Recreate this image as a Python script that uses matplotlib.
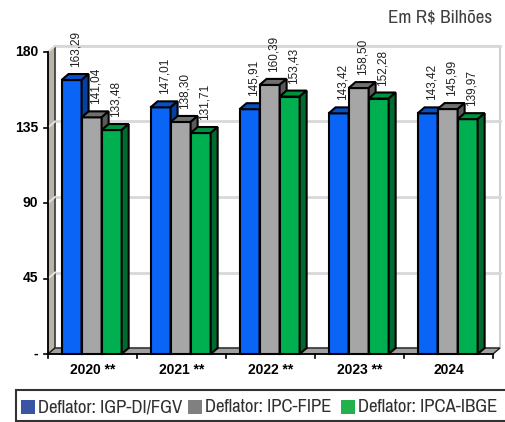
import matplotlib
matplotlib.use("Agg")
import matplotlib.pyplot as plt
from matplotlib.patches import Polygon, Rectangle
from matplotlib.lines import Line2D

# dados
anos = ["2020 **", "2021 **", "2022 **", "2023 **", "2024"]
igp_di = [163.29, 147.01, 145.91, 143.42, 143.42]
ipc_fipe = [141.04, 138.30, 160.39, 158.50, 145.99]
ipca_ibge = [133.48, 131.71, 153.43, 152.28, 139.97]
series_nomes = ["Deflator: IGP-DI/FGV", "Deflator: IPC-FIPE", "Deflator: IPCA-IBGE"]
yticks = [0, 45, 90, 135, 180]
ytick_labels = ["-", "45", "90", "135", "180"]

# cores (frente, topo, lateral, legenda)
cores = [
    ("#0A64F5", "#0850C8", "#0640A0", "#3B55A5"),
    ("#A6A6A6", "#707070", "#5A5A5A", "#808080"),
    ("#00B050", "#00913F", "#006B2F", "#22B14C"),
]

W, H = 506, 422
fig = plt.figure(figsize=(W / 100, H / 100), dpi=100)
L, B, R, T = 48, 354, 493, 52
ax = fig.add_axes([L / W, (H - B) / H, (R - L) / W, (B - T) / H])
YMAX = 180
ax.set_xlim(-0.5, len(anos) - 0.5)
ax.set_ylim(0, YMAX)
ax.axis("off")

# profundidade 3D em unidades de dados
pxx = (R - L) / len(anos)
pxy = (B - T) / YMAX
ddx = 7 / pxx
ddy = 6 / pxy
x0, x1 = -0.5, len(anos) - 0.5

def poly(pts, fc, ec, lw=1.0, z=2):
    ax.add_patch(Polygon(pts, closed=True, facecolor=fc, edgecolor=ec,
                         linewidth=lw, zorder=z, clip_on=False))

# parede do fundo
poly([(x0 + ddx, ddy), (x1 + ddx, ddy), (x1 + ddx, YMAX + ddy), (x0 + ddx, YMAX + ddy)],
     "white", "#D0D0D0", lw=1.5, z=0)
# parede lateral esquerda
poly([(x0, 0), (x0 + ddx, ddy), (x0 + ddx, YMAX + ddy), (x0, YMAX)],
     "#B8B4A8", "#202020", lw=1.0, z=1)
# chão
poly([(x0, 0), (x1, 0), (x1 + ddx, ddy), (x0 + ddx, ddy)],
     "#A0A0A0", "#202020", lw=1.0, z=1)

# grade
for v in yticks[1:]:
    ax.add_line(Line2D([x0 + ddx, x1 + ddx], [v + ddy, v + ddy], color="#D8D8D8",
                       lw=2, zorder=0.5, clip_on=False))
    ax.add_line(Line2D([x0, x0 + ddx], [v, v + ddy], color="#E0E0E0",
                       lw=1.5, zorder=1.5, clip_on=False))

# eixos
ax.add_line(Line2D([x0, x0], [0, YMAX], color="black", lw=1.2, zorder=3, clip_on=False))
ax.add_line(Line2D([x0, x1], [0, 0], color="black", lw=1.2, zorder=3, clip_on=False))
for v, lab in zip(yticks, ytick_labels):
    ax.add_line(Line2D([x0 - 4 / pxx, x0], [v, v], color="black", lw=1.2, clip_on=False))
    ax.text(x0 - 10 / pxx, v, lab, ha="right", va="center", fontsize=10,
            fontweight="bold", family="Liberation Sans")
for i in range(len(anos) + 1):
    xx = x0 + i
    ax.add_line(Line2D([xx, xx], [0, -4 / pxy], color="black", lw=1.2, clip_on=False))
for i, a in enumerate(anos):
    ax.text(i, -16 / pxy, a, ha="center", va="center", fontsize=10,
            fontweight="bold", family="Liberation Sans")

# barras 3D
w = 0.225
dados = [igp_di, ipc_fipe, ipca_ibge]
for i in range(len(anos)):
    for k, serie in enumerate(dados):
        v = serie[i]
        xs = i - 0.01 + (k - 1) * w - w / 2
        fr, tp, sd, _ = cores[k]
        z = 4 + i * 3 + k
        poly([(xs, 0), (xs + w, 0), (xs + w, v), (xs, v)], fr, "black", lw=1.5, z=z)
        poly([(xs, v), (xs + w, v), (xs + w + ddx, v + ddy), (xs + ddx, v + ddy)],
             tp, "black", lw=1.5, z=z)
        poly([(xs + w, 0), (xs + w + ddx, ddy), (xs + w + ddx, v + ddy), (xs + w, v)],
             sd, "black", lw=1.5, z=z)
        ax.text(xs + w / 2 + 4 / pxx, v + ddy + 7 / pxy, f"{v:.2f}".replace(".", ","),
                rotation=90, ha="center", va="bottom", fontsize=8.5, color="#202020",
                family="Liberation Sans", zorder=30)

# título da unidade
narrow = dict(family=["Archivo Narrow", "DejaVu Sans"], fontstretch="condensed")
fig.text(492 / W, 1 - 18 / H, "Em R$ Bilhões", ha="right", va="center",
         fontsize=13.7, color="#404040", **narrow)

# legenda
fig.patches.append(Rectangle((16 / W, 1 - 421 / H), (W - 14) / W, 31 / H,
                             transform=fig.transFigure, facecolor="white",
                             edgecolor="#333333", linewidth=1.5))
leg_x = [21, 188, 341]
for (cx, nome, c) in zip(leg_x, series_nomes, cores):
    fig.patches.append(Rectangle((cx / W, 1 - 414 / H), 14 / W, 14 / H,
                                 transform=fig.transFigure, facecolor=c[3],
                                 edgecolor="none"))
    fig.text((cx + 17) / W, 1 - 407 / H, nome, ha="left", va="center",
             fontsize=13.5, color="#303030", **narrow)

fig.savefig("out.png", dpi=100)
